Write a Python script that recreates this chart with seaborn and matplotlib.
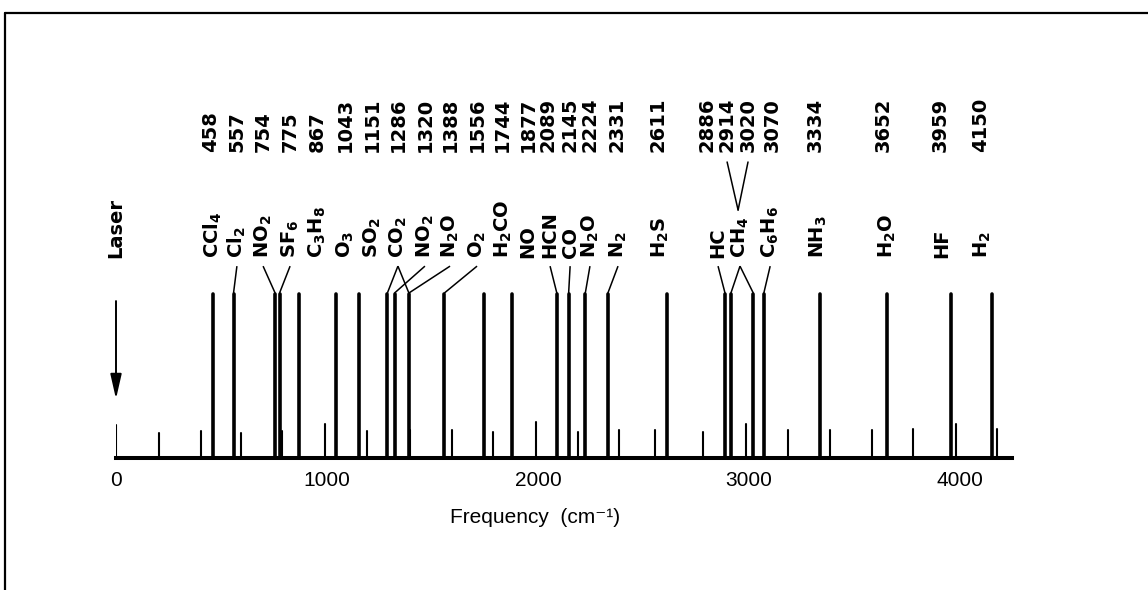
import matplotlib
matplotlib.use("Agg")
import matplotlib.pyplot as plt
from matplotlib.lines import Line2D
import pandas as pd
import seaborn as sns

# Raman shifts of the gas lines (cm^-1); the printed numbers are these values
line_shifts = [458, 557, 754, 775, 867, 1043, 1151, 1286, 1320, 1388, 1556,
               1744, 1877, 2089, 2145, 2224, 2331, 2611, 2886, 2914, 3020,
               3070, 3334, 3652, 3959, 4150]
peak_height = 1.0

# species names and the line(s) each one belongs to (index into line_shifts)
species = ["CCl$_4$", "Cl$_2$", "NO$_2$", "SF$_6$", "C$_3$H$_8$", "O$_3$",
           "SO$_2$", "CO$_2$", "NO$_2$", "N$_2$O", "O$_2$", "H$_2$CO", "NO",
           "HCN", "CO", "N$_2$O", "N$_2$", "H$_2$S", "HC", "CH$_4$",
           "C$_6$H$_6$", "NH$_3$", "H$_2$O", "HF", "H$_2$"]
species_lines = [[0], [1], [2], [3], [4], [5], [6], [7, 9], [8], [9], [10],
                 [11], [12], [13], [14], [15], [16], [17], [18], [19, 20],
                 [21], [22], [23], [24], [25]]

# weak reference marks along the baseline
mark_shifts = [204, 401, 593, 787, 990, 1190, 1393, 1592, 1787, 1990, 2190,
               2384, 2556, 2782, 2984, 3185, 3384, 3583, 3778, 3981, 4174]
mark_heights = [0.152, 0.164, 0.152, 0.164, 0.206, 0.164, 0.170, 0.170,
                0.156, 0.218, 0.160, 0.170, 0.170, 0.160, 0.210, 0.170,
                0.168, 0.170, 0.176, 0.210, 0.176]

laser_shift = 0
laser_height = 0.20

x_ticks = [0, 1000, 2000, 3000, 4000]

# ---- label layout (x in cm^-1, spread so the rotated labels do not collide)
number_x = [450, 573, 697, 825, 953, 1085, 1213, 1336, 1464, 1583, 1711,
            1829, 1953, 2047, 2152, 2246, 2374, 2569, 2801, 2896, 2995,
            3109, 3313, 3635, 3905, 4095]
species_x = [460, 573, 697, 825, 953, 1085, 1213, 1336, 1464, 1583, 1711,
             1834, 1953, 2057, 2152, 2246, 2379, 2578, 2853, 2957, 3100,
             3327, 3654, 3915, 4104]
has_leader = [False, True, True, True, False, False, False, True, True, True,
              True, False, False, True, True, True, True, False, True, True,
              True, False, False, False, False]

NUM_Y = 1.866      # bottom of the rotated shift values
SPEC_Y = 1.22      # bottom of the rotated species names
LEAD_TOP = 1.17
LEAD_BOT = 1.006

sns.set_theme(style="white", rc={"text.color": "black",
                                 "axes.labelcolor": "black",
                                 "xtick.color": "black"})
plt.rcParams["font.family"] = ["DejaVu Sans"]
plt.rcParams["mathtext.fontset"] = "custom"
plt.rcParams["mathtext.rm"] = "DejaVu Sans:bold"
plt.rcParams["mathtext.default"] = "rm"

W, H = 1148, 590
fig = plt.figure(figsize=(W / 100, H / 100), dpi=100, facecolor="white")
ax = fig.add_axes([116 / W, (H - 458) / H, 896 / W, 398 / H])
ax.set_facecolor("white")


def stems(xs, hs):
    rows = []
    for i, (x, h) in enumerate(zip(xs, hs)):
        rows.append({"peak": i, "x": x, "y": 0.0})
        rows.append({"peak": i, "x": x, "y": h})
    return pd.DataFrame(rows)


gas = stems(line_shifts, [peak_height] * len(line_shifts))
marks = stems(mark_shifts + [laser_shift], mark_heights + [laser_height])

sns.lineplot(data=marks, x="x", y="y", units="peak", estimator=None,
             sort=False, color="black", lw=1.5, ax=ax, legend=False)
sns.lineplot(data=gas, x="x", y="y", units="peak", estimator=None,
             sort=False, color="black", lw=2.6, ax=ax, legend=False)

ax.set_xlim(0, 4246)
ax.set_ylim(0, 2.427)

# rotated shift values
for x, s in zip(number_x, line_shifts):
    ax.text(x, NUM_Y, str(s), rotation=90, ha="center", va="bottom",
            fontsize=14, fontweight="bold", clip_on=False)

# rotated species names with leader lines
for x, name, idx, lead in zip(species_x, species, species_lines, has_leader):
    ax.text(x, SPEC_Y, name, rotation=90, ha="center", va="bottom",
            fontsize=14, fontweight="bold", clip_on=False)
    if lead:
        for i in idx:
            ax.plot([x, line_shifts[i]], [LEAD_TOP, LEAD_BOT], color="black",
                    lw=1.1, solid_capstyle="butt")

# the two CH4 values join onto one name
ch4 = species.index("CH$_4$")
for i in species_lines[ch4]:
    ax.plot([number_x[i], 2948], [1.805, 1.512], color="black", lw=1.1)

# laser position
ax.text(laser_shift, SPEC_Y, "Laser", rotation=90, ha="center", va="bottom",
        fontsize=14, fontweight="bold", clip_on=False)
ax.annotate("", xy=(laser_shift, 0.36), xytext=(laser_shift, 0.957),
            arrowprops=dict(arrowstyle="-|>,head_length=0.75,head_width=0.17",
                            lw=1.4, color="black", mutation_scale=20,
                            shrinkA=0, shrinkB=0))

# axis styling
for side in ("top", "right", "left"):
    ax.spines[side].set_visible(False)
ax.spines["bottom"].set_color("black")
ax.spines["bottom"].set_linewidth(2.9)
ax.set_yticks([])
ax.set_xticks(x_ticks)
ax.set_xticklabels([str(t) for t in x_ticks], family=["Liberation Sans"],
                   fontsize=15)
ax.tick_params(axis="x", length=0, pad=9)
ax.set_xlabel("Frequency  (cm\u207b\u00b9)", fontsize=15,
              family=["Liberation Sans", "DejaVu Sans"])
ax.xaxis.set_label_coords(0.468, -0.126)
ax.set_ylabel("")

# page frame
fx, fy = 5 / W, 1 - 13 / H
fig.add_artist(Line2D([fx, 1.0], [fy, fy], transform=fig.transFigure,
                      color="black", lw=1.6))
fig.add_artist(Line2D([fx, fx], [fy, 0.0], transform=fig.transFigure,
                      color="black", lw=1.6))

fig.savefig("out.png", dpi=100, facecolor="white")
